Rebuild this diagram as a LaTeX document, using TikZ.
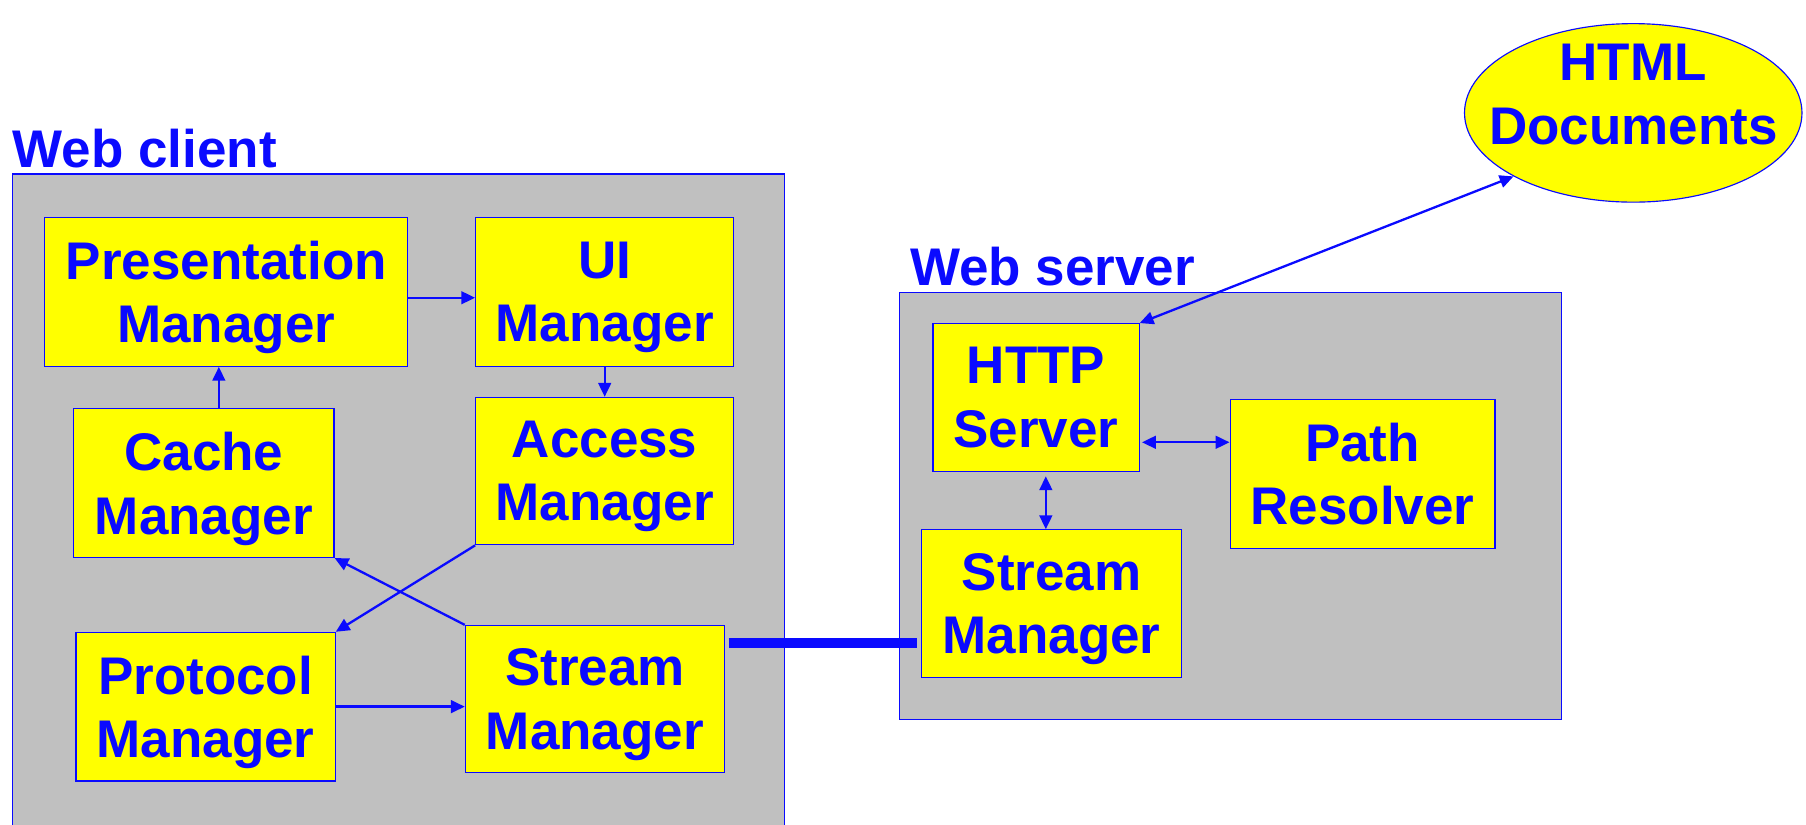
\documentclass[tikz,border=0pt]{standalone}
\usepackage{fontspec}
\setmainfont{Liberation Sans}
\usetikzlibrary{arrows.meta,shapes.geometric}
\definecolor{tblue}{RGB}{10,10,255}
\definecolor{tgray}{RGB}{192,192,192}
\definecolor{tyellow}{RGB}{255,255,0}
\begin{document}
\begin{tikzpicture}[x=1pt,y=-1pt,
  comp/.style={draw=tblue, line width=1pt, fill=tyellow, text=tblue,
    font=\fontsize{46}{55}\selectfont\bfseries, align=center, inner sep=0pt, text depth=0pt},
  container/.style={draw=tblue, line width=1pt, fill=tgray},
  lbl/.style={text=tblue, font=\fontsize{46}{55}\selectfont\bfseries, inner sep=0pt, anchor=base west},
  conn/.style={draw=tblue, line width=2pt, -{Triangle[length=12pt,width=11pt]}},
  bi/.style={draw=tblue, line width=2pt, {Triangle[length=12pt,width=11pt]}-{Triangle[length=12pt,width=11pt]}},
  thick link/.style={draw=tblue, line width=9pt}]
\clip (0,0) rectangle (1568,716);
\fill[white] (0,0) rectangle (1568,716);
% containers
\draw[container] (11,151) rectangle (681,740);
\node[lbl] (clientlbl) at (11,145) {Web client};
\draw[container] (781,254) rectangle (1356,625);
\node[lbl] (serverlbl) at (790,248) {Web server};
% client components
\node[comp, minimum width=315pt, minimum height=129pt] (pm) at (196.5,253.5) {Presentation\\Manager};
\node[comp, minimum width=224pt, minimum height=129pt] (ui) at (525,253.5) {UI\\Manager};
\node[comp, minimum width=226pt, minimum height=129pt] (cm) at (177,419.5) {Cache\\Manager};
\node[comp, minimum width=224pt, minimum height=128pt] (am) at (525,409) {Access\\Manager};
\node[comp, minimum width=225pt, minimum height=129pt] (prm) at (178.5,613.5) {Protocol\\Manager};
\node[comp, minimum width=225pt, minimum height=128pt] (sc) at (516.5,607) {Stream\\Manager};
% server components
\node[comp, minimum width=179pt, minimum height=128pt] (http) at (899.5,345) {HTTP\\Server};
\node[comp, minimum width=230pt, minimum height=129pt] (pr) at (1183,411.5) {Path\\Resolver};
\node[comp, minimum width=226pt, minimum height=128pt] (ss) at (913,524) {Stream\\Manager};
% documents
\node[ellipse, draw=tblue, line width=1pt, fill=tyellow, minimum width=293pt, minimum height=155pt, inner sep=0pt] (html) at (1418,98) {};
\node[text=tblue, font=\fontsize{46}{55}\selectfont\bfseries, align=center, inner sep=0pt] (htmltxt) at (1418,82) {HTML\\Documents};
% helper coordinates
\coordinate (thk) at (0,558);
\coordinate (hp) at (0,384);
\coordinate (hs) at (908,0);
% connectors
\draw[conn] ([yshift=-5pt]pm.east) -- ([yshift=-5pt]ui.west);
\draw[conn] ([xshift=13pt]cm.north) -- ([xshift=13pt]cm.north |- pm.south);
\draw[conn] (ui.south) -- (am.north);
\draw[conn] (am.south west) -- (prm.north east);
\draw[conn] (sc.north west) -- (cm.south east);
\draw[conn] (prm.east) -- (prm.east -| sc.west);
\draw[thick link] ([xshift=3pt]sc.east |- thk) -- ([xshift=-3pt]ss.west |- thk);
\draw[bi] ([xshift=2pt]http.east |- hp) -- (pr.west |- hp);
\draw[bi] ([yshift=-4pt]http.south -| hs) -- (ss.north -| hs);
\draw[bi] (http.north east) -- (html.south west);
\end{tikzpicture}
\end{document}
